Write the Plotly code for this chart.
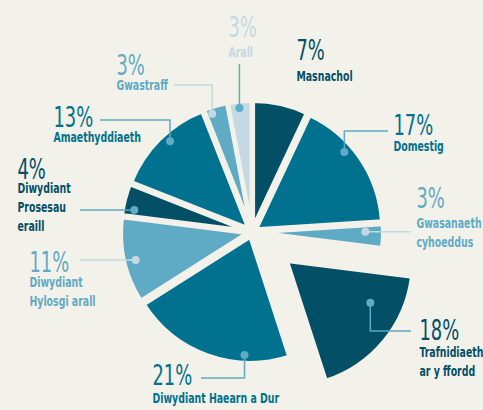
import math
import plotly.graph_objects as go

# ── Data ─────────────────────────────────────────────────────────────────────
sectors = [
    "Masnachol", "Domestig", "Gwasanaeth cyhoeddus", "Trafnidiaeth ar y ffordd",
    "Diwydiant Haearn a Dur", "Diwydiant Hylosgi arall", "Diwydiant Prosesau eraill",
    "Amaethyddiaeth", "Gwastraff", "Arall",
]
shares = [7, 17, 3, 18, 21, 11, 4, 13, 3, 3]
sub_labels = [
    "Masnachol", "Domestig", "Gwasanaeth<br>cyhoeddus", "Trafnidiaeth<br>ar y ffordd",
    "Diwydiant Haearn a Dur", "Diwydiant<br>Hylosgi arall", "Diwydiant<br>Prosesau<br>eraill",
    "Amaethyddiaeth", "Gwastraff", "Arall",
]

# ── Palette ──────────────────────────────────────────────────────────────────
BG = "#f3f2ea"
DARK = "#024f66"
MED = "#00718e"
LIGHT = "#5faac4"
PALE = "#c4d9e2"
slice_colors = [DARK, MED, LIGHT, DARK, MED, LIGHT, DARK, MED, LIGHT, PALE]
dot_colors = [None, LIGHT, PALE, LIGHT, LIGHT, PALE, LIGHT, LIGHT, PALE, LIGHT]
FONT = "Noto Sans ExtraCondensed, Noto Sans Condensed, DejaVu Sans Condensed, Roboto, sans-serif"
PCT_SIZE, SUB_SIZE = 28, 14.5

# ── Geometry (pixels) ────────────────────────────────────────────────────────
W, H = 483, 410
CX, CY, R = 252, 232, 126
BASE_PULL, BIG_PULL = 0.04, 0.36
pulls = [BIG_PULL if s.startswith("Trafnidiaeth") else BASE_PULL for s in sectors]
half = R * (1 + max(pulls))
dom_x = [(CX - half) / W, (CX + half) / W]
dom_y = [(H - CY - half) / H, (H - CY + half) / H]


def px(x):
    return x / W


def py(y):
    return 1 - y / H


# label layout: left x, cap-top of percent, cap-top of sub label
label_pos = [
    (296, 40, 71), (393, 114, 141), (416, 188, 218), (419, 319, 347),
    (152, 364, 393), (29, 251, 277), (17, 158, 183), (53, 106, 132),
    (116, 54, 80), (228, 16, 47),
]
# dot placement: angle nudge (deg) from slice middle, fraction of radius
dot_place = [None, (-7, 0.93), (-2, 0.86), (-13, 0.74), (-17, 0.94),
             (-1, 0.91), (-4, 0.91), (3, 0.93), (-2.5, 0.95), (-0.4, 0.95)]
# leader route: ("vh", elbow y, end x) / ("h", end x) / ("v", end y)
leaders = [None, ("vh", 131, 388), ("h", 411), ("vh", 331, 411), ("vh", 378, 201),
           ("h", 80), ("h", 80), ("vh", 120, 100), ("vh", 85, 174), ("v", 64)]

fig = go.Figure(go.Pie(
    labels=sectors, values=shares, sort=False, direction="clockwise", rotation=0,
    pull=pulls, textinfo="none", hoverinfo="label+percent",
    marker=dict(colors=slice_colors, line=dict(color=BG, width=4)),
    domain=dict(x=dom_x, y=dom_y), showlegend=False,
))

total = sum(shares)
cum = 0
for i, v in enumerate(shares):
    mid = (cum + v / 2) / total * 360
    cum += v
    col = slice_colors[i]
    lx, ptop, stop = label_pos[i]
    fig.add_annotation(text=f"{v}%", x=px(lx - 1), y=py(ptop - 7.5), xref="paper", yref="paper",
                       xanchor="left", yanchor="top", showarrow=False,
                       font=dict(family=FONT, size=PCT_SIZE, color=col))
    fig.add_annotation(text=sub_labels[i], x=px(lx - 1), y=py(stop - 5), xref="paper", yref="paper",
                       xanchor="left", yanchor="top", align="left", showarrow=False,
                       font=dict(family=FONT, size=SUB_SIZE, color=col, weight="bold"))
    if dot_place[i] is None:
        continue
    nudge, rf = dot_place[i]
    m = math.radians(mid)
    ax = CX + pulls[i] * R * math.sin(m)
    ay = CY - pulls[i] * R * math.cos(m)
    a = math.radians(mid + nudge)
    dx = ax + rf * R * math.sin(a)
    dy = ay - rf * R * math.cos(a)
    route = leaders[i]
    if route[0] == "vh":
        pts = [(dx, dy), (dx, route[1]), (route[2], route[1])]
    elif route[0] == "h":
        pts = [(dx, dy), (route[1], dy)]
    else:
        pts = [(dx, dy), (dx, route[1])]
    path = "M " + " L ".join(f"{px(x):.5f},{py(y):.5f}" for x, y in pts)
    fig.add_shape(type="path", path=path, xref="paper", yref="paper",
                  line=dict(color=dot_colors[i], width=1.5))
    rd = 4
    fig.add_shape(type="circle", xref="paper", yref="paper",
                  x0=px(dx - rd), x1=px(dx + rd), y0=py(dy + rd), y1=py(dy - rd),
                  fillcolor=dot_colors[i], line=dict(width=0))

fig.update_layout(
    width=W, height=H, margin=dict(l=0, r=0, t=0, b=0),
    paper_bgcolor=BG, plot_bgcolor=BG,
)

# no page margin; squeeze label glyphs horizontally to mimic the condensed typeface
POST = """
document.body.style.margin = '0';
function squeeze() {
  document.querySelectorAll('.annotation-text').forEach(function (t) {
    var s = t.textContent.indexOf('%') >= 0 ? 0.71 : 0.72;
    t.setAttribute('transform', 'scale(' + s + ',1)');
  });
}
squeeze();
var gd = document.getElementById('{plot_id}');
if (gd && gd.on) { gd.on('plotly_afterplot', squeeze); }
"""
fig.write_html("out.html", config={"displayModeBar": False}, post_script=POST)
